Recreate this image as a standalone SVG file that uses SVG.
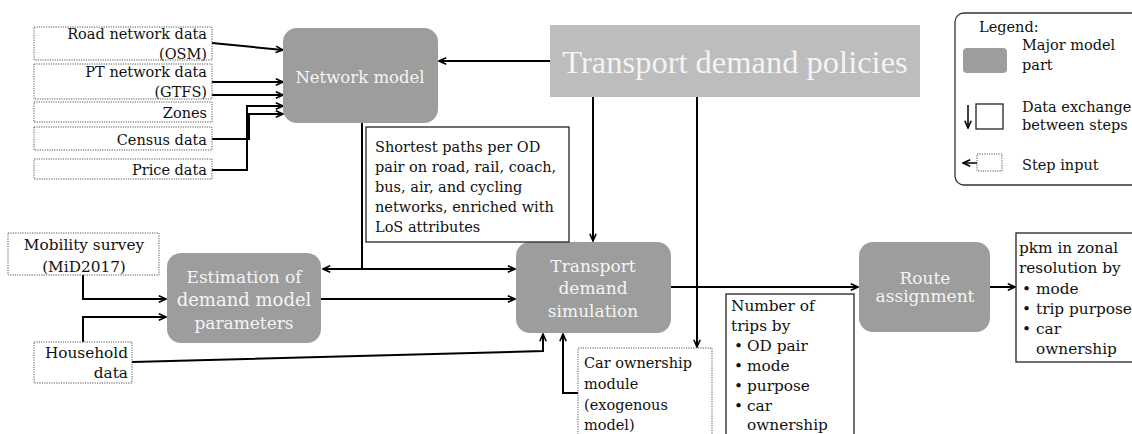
<svg xmlns="http://www.w3.org/2000/svg" width="1132" height="434" viewBox="0 0 1132 434">
  <defs>
    <style>
      text { font-family: "DejaVu Serif", "Liberation Serif", serif; font-size: 14.5px; fill: #111; }
      .in { fill: #fff; stroke: #555; stroke-width: 1; stroke-dasharray: 1.2 1.2; }
      .data { fill: #fff; stroke: #222; stroke-width: 1.3; }
      .major { fill: #9d9d9d; }
      .wt { fill: #f4f4f4; font-size: 17px; text-anchor: middle; }
      .big { font-size: 15.3px; }
      .r { text-anchor: end; }
      .c { text-anchor: middle; }
      .ln { fill: none; stroke: #000; stroke-width: 2; }
      .la { fill: none; stroke: #000; stroke-width: 2; marker-end: url(#ah); }
    </style>
    <marker id="ah" viewBox="0 0 10 10" refX="9" refY="5" markerWidth="9" markerHeight="9" markerUnits="userSpaceOnUse" orient="auto">
      <path d="M1,1.5 L9,5 L1,8.5" fill="none" stroke="#000" stroke-width="1.8"/>
    </marker>
  </defs>

  <!-- connectors -->
  <g id="connectors">
    <path class="la" d="M212,43 L283,50"/>
    <path class="la" d="M212,82 L283,82"/>
    <path class="la" d="M212,95 L283,95"/>
    <path class="la" d="M212,170 L247,170 L247,106 L283,106"/>
    <path class="la" d="M212,139 L249,139 L249,114 L283,114"/>
    <path class="la" d="M550,61 L439,61"/>
    <path class="la" d="M593,97 L593,241"/>
    <path class="la" d="M697,97 L697,347"/>
    <path class="ln" d="M362,123 L362,269"/>
    <path class="la" d="M362,269 L323,269"/>
    <path class="la" d="M362,269 L515,269"/>
    <path class="la" d="M321,299 L515,299"/>
    <path class="la" d="M83,275 L83,299 L166,299"/>
    <path class="la" d="M83,342 L83,317 L166,317"/>
    <path class="la" d="M132,362 L543,351 L543,334"/>
    <path class="la" d="M578,393 L563,393 L563,334"/>
    <path class="la" d="M671,287 L858,287"/>
    <path class="la" d="M990,287 L1015,287"/>
  </g>

  <!-- step inputs -->
  <g id="road-network-data">
    <rect class="in" x="34" y="27" width="178" height="33"/>
    <text class="r" x="207" y="39">Road network data</text>
    <text class="r" x="207" y="59">(OSM)</text>
  </g>
  <g id="pt-network-data">
    <rect class="in" x="34" y="64" width="178" height="35"/>
    <text class="r" x="207" y="77">PT network data</text>
    <text class="r" x="207" y="97">(GTFS)</text>
  </g>
  <g id="zones">
    <rect class="in" x="34" y="102" width="178" height="20"/>
    <text class="r" x="207" y="118">Zones</text>
  </g>
  <g id="census-data">
    <rect class="in" x="34" y="127" width="178" height="23"/>
    <text class="r" x="207" y="145">Census data</text>
  </g>
  <g id="price-data">
    <rect class="in" x="34" y="159" width="178" height="20"/>
    <text class="r" x="207" y="175">Price data</text>
  </g>
  <g id="mobility-survey">
    <rect class="in" x="8" y="233" width="151" height="42"/>
    <text class="c big" x="84" y="250">Mobility survey</text>
    <text class="c big" x="84" y="272">(MiD2017)</text>
  </g>
  <g id="household-data">
    <rect class="in" x="34" y="342" width="98" height="41"/>
    <text class="r big" x="128" y="358">Household</text>
    <text class="r big" x="128" y="378">data</text>
  </g>
  <g id="car-ownership-module">
    <rect class="in" x="578" y="348" width="134" height="100"/>
    <text x="584" y="368">Car ownership</text>
    <text x="584" y="389">module</text>
    <text x="584" y="410">(exogenous</text>
    <text x="584" y="430">model)</text>
  </g>

  <!-- major model parts -->
  <g id="network-model">
    <rect class="major" x="283" y="28" width="155" height="95" rx="14"/>
    <text class="wt" x="360" y="83" style="font-size:16.5px">Network model</text>
  </g>
  <g id="transport-demand-policies">
    <rect x="550" y="25" width="370" height="72" fill="#bcbdbc"/>
    <text class="wt" x="735" y="73" style="font-family:'Liberation Serif','DejaVu Serif',serif;font-size:32.5px">Transport demand policies</text>
  </g>
  <g id="estimation">
    <rect class="major" x="167" y="253" width="154" height="90" rx="14"/>
    <text class="wt" x="244" y="283">Estimation of</text>
    <text class="wt" x="244" y="306" style="font-size:18px">demand model</text>
    <text class="wt" x="244" y="329">parameters</text>
  </g>
  <g id="transport-demand-simulation">
    <rect class="major" x="516" y="242" width="155" height="91" rx="14"/>
    <text class="wt" x="593" y="272">Transport</text>
    <text class="wt" x="593" y="294">demand</text>
    <text class="wt" x="593" y="317">simulation</text>
  </g>
  <g id="route-assignment">
    <rect class="major" x="859" y="242" width="131" height="90" rx="14"/>
    <text class="wt" x="925" y="284">Route</text>
    <text class="wt" x="925" y="302">assignment</text>
  </g>

  <!-- data exchanged between steps -->
  <g id="shortest-paths">
    <rect class="data" x="366" y="127" width="203" height="115"/>
    <text x="375" y="152">Shortest paths per OD</text>
    <text x="375" y="172">pair on road, rail, coach,</text>
    <text x="375" y="192">bus, air, and cycling</text>
    <text x="375" y="212">networks, enriched with</text>
    <text x="375" y="232">LoS attributes</text>
  </g>
  <g id="number-of-trips" class="big">
    <rect class="data" x="726" y="294" width="128" height="150"/>
    <text class="big" x="731" y="311">Number of</text>
    <text class="big" x="731" y="331">trips by</text>
    <text class="big" x="734" y="351">•<tspan x="747">OD pair</tspan></text>
    <text class="big" x="734" y="371">•<tspan x="747">mode</tspan></text>
    <text class="big" x="734" y="391">•<tspan x="747">purpose</tspan></text>
    <text class="big" x="734" y="411">•<tspan x="747">car</tspan></text>
    <text class="big" x="747" y="430">ownership</text>
  </g>
  <g id="pkm-output">
    <rect class="data" x="1016" y="233" width="130" height="129"/>
    <text class="big" x="1019" y="253">pkm in zonal</text>
    <text class="big" x="1019" y="273">resolution by</text>
    <text class="big" x="1022" y="294">•<tspan x="1036">mode</tspan></text>
    <text class="big" x="1022" y="314">•<tspan x="1036">trip purpose</tspan></text>
    <text class="big" x="1022" y="334">•<tspan x="1036">car</tspan></text>
    <text class="big" x="1036" y="354">ownership</text>
  </g>

  <!-- legend -->
  <g id="legend">
    <rect x="955" y="13" width="190" height="172" rx="9" fill="#fff" stroke="#333" stroke-width="1.3"/>
    <text x="979" y="32">Legend:</text>
    <rect class="major" x="963" y="48" width="44" height="25" rx="4"/>
    <text x="1022" y="50">Major model</text>
    <text x="1022" y="70">part</text>
    <rect class="data" x="976" y="104" width="27" height="25"/>
    <path d="M968,105 L968,128" stroke="#000" stroke-width="1.5" marker-end="url(#ah)" fill="none"/>
    <text x="1022" y="112">Data exchange</text>
    <text x="1022" y="130">between steps</text>
    <rect class="in" x="977" y="154" width="25" height="17"/>
    <path d="M977,163 L963,163" stroke="#000" stroke-width="1.5" marker-end="url(#ah)" fill="none"/>
    <text x="1022" y="170">Step input</text>
  </g>
</svg>
